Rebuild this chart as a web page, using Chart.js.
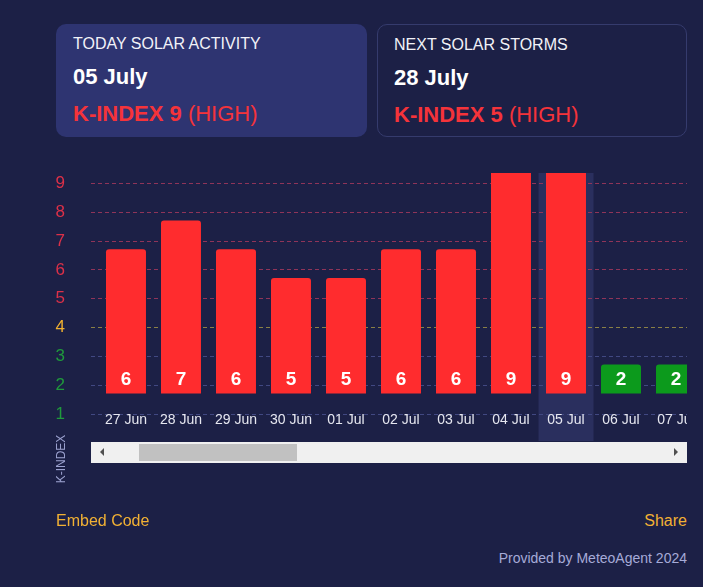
<!DOCTYPE html>
<html>
<head>
<meta charset="utf-8">
<script src="https://cdn.jsdelivr.net/npm/chart.js@4"></script>
<style>
  body { margin: 0; width: 703px; height: 587px; overflow: hidden; background: #1c2046; font-family: "Liberation Sans", Arial, sans-serif; position: relative; }
  .card { position: absolute; top: 24px; width: 311px; height: 113px; border-radius: 10px; box-sizing: border-box; padding-left: 17px; }
  .card.today { left: 56px; background: #2e3471; }
  .card.next { left: 377px; width: 310px; border: 1px solid #353b6d; padding-left: 16px; }
  .card .title { position: absolute; top: 11px; font-size: 16px; color: #f2f2f8; }
  .card .date { position: absolute; top: 40px; font-size: 22px; font-weight: bold; color: #ffffff; }
  .card .kidx { position: absolute; top: 77px; font-size: 22px; color: #f5333a; }
  .card .kidx b { font-weight: bold; }
  #chart { position: absolute; left: 0; top: 160px; }
  .ytitle { position: absolute; left: 61px; top: 459px; transform: translate(-50%, -50%) rotate(-90deg); font-size: 12px; color: #9ca2d0; white-space: nowrap; }
  .scroll { position: absolute; left: 91px; top: 442px; width: 596px; height: 21px; background: #f0f0f0; }
  .thumb { position: absolute; left: 48px; top: 2px; width: 158px; height: 17px; background: #c1c1c1; }
  .arr-l { position: absolute; left: 9px; top: 6px; width: 0; height: 0; border-top: 4px solid transparent; border-bottom: 4px solid transparent; border-right: 4px solid #505050; }
  .arr-r { position: absolute; right: 9px; top: 6px; width: 0; height: 0; border-top: 4px solid transparent; border-bottom: 4px solid transparent; border-left: 4px solid #505050; }
  .link { position: absolute; top: 512px; font-size: 16px; color: #f2b134; }
  .credit { position: absolute; right: 16px; top: 550px; font-size: 14px; color: #a6abd8; }
</style>
</head>
<body>
<div class="card today">
  <div class="title">TODAY SOLAR ACTIVITY</div>
  <div class="date">05 July</div>
  <div class="kidx"><b>K-INDEX 9</b> (HIGH)</div>
</div>
<div class="card next">
  <div class="title">NEXT SOLAR STORMS</div>
  <div class="date">28 July</div>
  <div class="kidx"><b>K-INDEX 5</b> (HIGH)</div>
</div>

<canvas id="chart" width="687" height="290"></canvas>
<div class="ytitle">K-INDEX</div>
<div class="scroll"><div class="arr-l"></div><div class="thumb"></div><div class="arr-r"></div></div>

<div class="link" style="left:56px">Embed Code</div>
<div class="link" style="right:16px">Share</div>
<div class="credit">Provided by MeteoAgent 2024</div>

<script>
const dates = ["27 Jun", "28 Jun", "29 Jun", "30 Jun", "01 Jul", "02 Jul", "03 Jul", "04 Jul", "05 Jul", "06 Jul", "07 Jul"];
const kIndex = [6, 7, 6, 5, 5, 6, 6, 9, 9, 2, 2];
const yTicks = [1, 2, 3, 4, 5, 6, 7, 8, 9];
const today = "05 Jul";

function levelColor(v, red, yellow, green) {
  if (v >= 5) return red;
  if (v === 4) return yellow;
  return green;
}

const gridColors = yTicks.map(v => levelColor(v, "#8f3459", "#8a8046", "#414882"));
const tickColors = yTicks.map(v => levelColor(v, "#dc3048", "#f0b030", "#1f9a3c"));

// visible scroll window of the chart (in bar index units)
const viewMin = -0.636;
const viewMax = 10.2;
// bars sit a bit above the tick grid in the original
const barShift = 0.715;
const yMin = 1, yMax = 9.36;

const highlight = {
  id: "highlight",
  beforeDraw(chart) {
    const x = chart.scales.x;
    const i = dates.indexOf(today);
    const left = x.getPixelForValue(i - 0.5);
    const right = x.getPixelForValue(i + 0.5);
    const ctx = chart.ctx;
    ctx.save();
    ctx.fillStyle = "#2a2f5e";
    ctx.fillRect(left, chart.chartArea.top, right - left, chart.height - 9 - chart.chartArea.top);
    ctx.restore();
  }
};

const barLabels = {
  id: "barLabels",
  afterDatasetsDraw(chart) {
    const ctx = chart.ctx;
    const area = chart.chartArea;
    ctx.save();
    ctx.beginPath();
    ctx.rect(area.left, area.top, area.right - area.left, area.bottom - area.top);
    ctx.clip();
    ctx.font = "bold 19px 'Liberation Sans', Arial, sans-serif";
    ctx.fillStyle = "#ffffff";
    ctx.textAlign = "center";
    ctx.textBaseline = "middle";
    chart.getDatasetMeta(0).data.forEach((bar, i) => {
      ctx.fillText(String(kIndex[i]), bar.x, bar.base - 14);
    });
    ctx.restore();
  }
};

new Chart(document.getElementById("chart").getContext("2d"), {
  type: "bar",
  data: {
    datasets: [{
      data: kIndex.map((v, i) => ({ x: i, y: v })),
      backgroundColor: kIndex.map(v => levelColor(v, "#ff2c2e", "#f0b030", "#0c9a1c")),
      base: 1,
      yAxisID: "yb",
      categoryPercentage: 1,
      barPercentage: 0.727,
      borderRadius: { topLeft: 3, topRight: 3 },
      borderSkipped: "bottom"
    }]
  },
  options: {
    responsive: false,
    animation: false,
    layout: { padding: { top: 13, left: 0, right: 0, bottom: 0 } },
    plugins: { legend: { display: false }, tooltip: { enabled: false } },
    scales: {
      x: {
        type: "linear",
        offset: false,
        min: viewMin,
        max: viewMax,
        grid: { display: false },
        border: { display: false },
        ticks: {
          stepSize: 1,
          includeBounds: false,
          autoSkip: false,
          maxRotation: 0,
          padding: -10,
          color: "#e6e7f0",
          font: { family: "'Liberation Sans', Arial, sans-serif", size: 14 },
          callback: v => dates[v] ?? ""
        },
        afterFit(s) { s.height = 36; s.paddingLeft = 0; s.paddingRight = 0; }
      },
      y: {
        min: yMin,
        max: yMax,
        afterBuildTicks(s) { s.ticks = yTicks.map(v => ({ value: v })); },
        grid: {
          drawTicks: false,
          lineWidth: 1,
          color: gridColors
        },
        border: { display: false, dash: [4, 3] },
        ticks: {
          padding: 26,
          color: tickColors,
          font: { family: "'Liberation Sans', Arial, sans-serif", size: 17 }
        },
        afterFit(s) { s.width = 91; s.paddingTop = 0; s.paddingBottom = 0; }
      },
      yb: {
        display: false,
        min: yMin - barShift,
        max: yMax - barShift
      }
    }
  },
  plugins: [highlight, barLabels]
});
</script>
</body>
</html>
